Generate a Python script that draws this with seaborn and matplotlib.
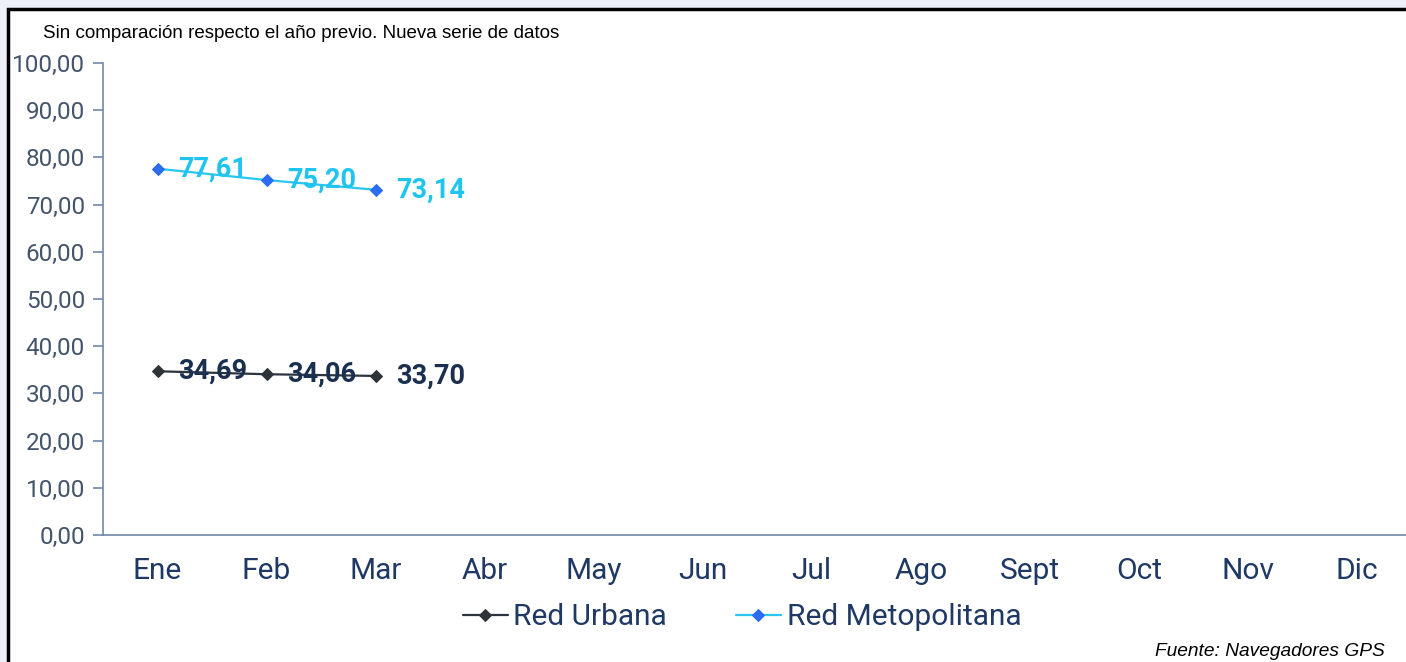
import matplotlib
matplotlib.use("Agg")
import matplotlib.pyplot as plt
from matplotlib.patches import Rectangle
import numpy as np
import pandas as pd
import seaborn as sns

# data
months = ['Ene', 'Feb', 'Mar', 'Abr', 'May', 'Jun', 'Jul', 'Ago', 'Sept', 'Oct', 'Nov', 'Dic']
urbana = [34.69, 34.06, 33.70]
metro = [77.61, 75.20, 73.14]
y_ticks = [0, 10, 20, 30, 40, 50, 60, 70, 80, 90, 100]

sns.set_theme(style='white')
plt.rcParams['font.family'] = ['Roboto', 'DejaVu Sans']

df = pd.DataFrame({
    'mes': np.arange(len(urbana)),
    'Red Urbana': urbana,
    'Red Metopolitana': metro,
})

fig = plt.figure(figsize=(14.06, 6.62), dpi=100)
fig.patch.set_facecolor('#eef0f8')
# white panel with black border
fig.patches.append(Rectangle((8 / 1406, -0.05), 1.1, (662 - 9) / 662 + 0.05,
                             transform=fig.transFigure, facecolor='white',
                             edgecolor='black', linewidth=2.5, zorder=-1))

ax = fig.add_axes([103 / 1406, 127 / 662, 1 - 103 / 1406, (535 - 63) / 662])
ax.set_facecolor('none')

series = [
    ('Red Urbana', '#2b3540', '#2e3338', '#1b2f4f'),
    ('Red Metopolitana', '#29c6f2', '#2b6cf0', '#1fc5f0'),
]
for name, lc, mc, tc in series:
    sns.lineplot(data=df, x='mes', y=name, ax=ax, color=lc, linewidth=1.6,
                 marker='D', markersize=6.5, markerfacecolor=mc,
                 markeredgecolor=mc, label=name)
    for xi, yi in zip(df['mes'], df[name]):
        ax.annotate(f'{yi:.2f}'.replace('.', ','), (xi, yi),
                    xytext=(15, 0), textcoords='offset points',
                    ha='left', va='center', fontsize=19.5, fontweight='bold',
                    color=tc)

ax.set_xlim(-0.5, 11.45)
ax.set_ylim(0, 100)
ax.set_xticks(range(len(months)))
ax.set_xticklabels(months)
ax.set_yticks(y_ticks)
ax.set_yticklabels([f'{v:.2f}'.replace('.', ',') for v in y_ticks])
ax.set_xlabel('')
ax.set_ylabel('')

axis_col = '#6f87a8'
for s in ['top', 'right']:
    ax.spines[s].set_visible(False)
for s in ['left', 'bottom']:
    ax.spines[s].set_color(axis_col)
    ax.spines[s].set_linewidth(1.2)
ax.tick_params(axis='y', left=True, length=7, width=1.2, color=axis_col,
               labelsize=17.5, labelcolor='#44546a', pad=6)
ax.tick_params(axis='x', bottom=False, labelsize=21.5, labelcolor='#1f3864', pad=10)

ax.legend(loc='center', bbox_to_anchor=(742 / 1406, 45 / 662),
          bbox_transform=fig.transFigure, ncol=2, frameon=False,
          fontsize=21.5, handlelength=1.5, columnspacing=2.3, handletextpad=0.2,
          labelcolor='#1f3864')

fig.text(43 / 1406, 1 - 33 / 662, 'Sin comparación respecto el año previo. Nueva serie de datos',
         ha='left', va='center', fontsize=13.5, family='Liberation Sans', color='black')
fig.text(1385 / 1406, 1 - 652 / 662, 'Fuente: Navegadores GPS',
         ha='right', va='center', fontsize=13.8, family='Liberation Sans',
         style='italic', color='black')

fig.savefig('out.png', dpi=100, facecolor=fig.get_facecolor())
